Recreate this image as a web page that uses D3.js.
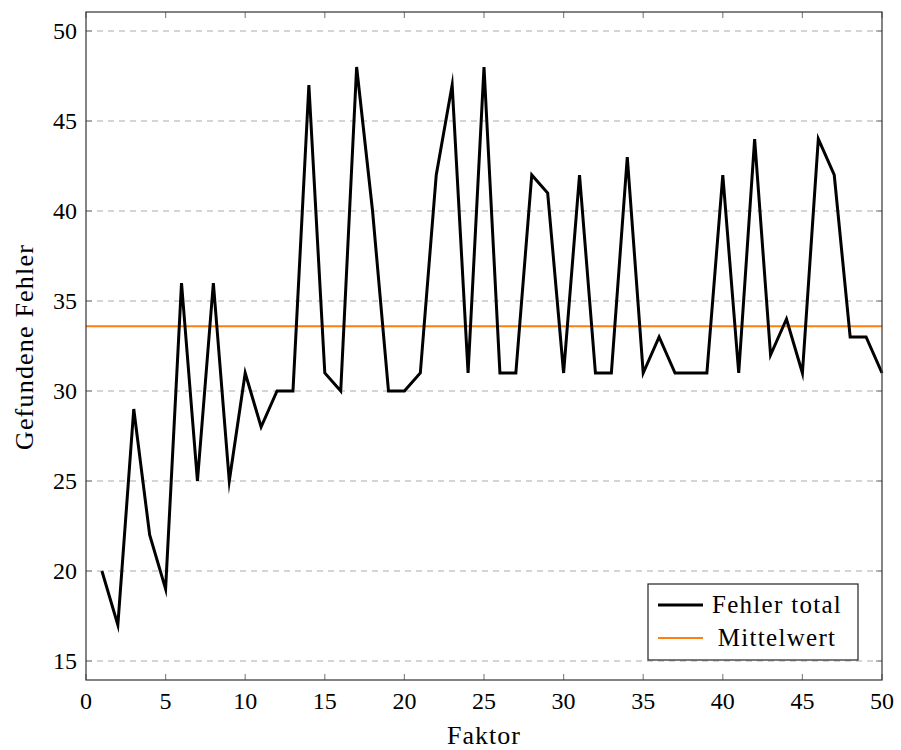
<!DOCTYPE html>
<html><head><meta charset="utf-8">
<script src="https://cdn.jsdelivr.net/npm/d3@7"></script>
<style>body{margin:0;background:#fff;} text{font-family:"Liberation Serif","DejaVu Serif",serif;}</style>
</head><body><svg id="c" width="901" height="750"></svg>
<script>
const factors = d3.range(1, 51);
const errors = [20,17,29,22,19,36,25,36,25,31,28,30,30,47,31,30,48,40,30,30,
                31,42,47,31,48,31,31,42,41,31,42,31,31,43,31,33,31,31,31,42,
                31,44,32,34,31,44,42,33,33,31];
const meanValue = [33.6];
const xTicks = [0,5,10,15,20,25,30,35,40,45,50];
const yTicks = [15,20,25,30,35,40,45,50];
const legendLabels = ["Fehler total","Mittelwert"];

const svg = d3.select("#c");
const L=86, R=882, T=12, B=680;
const x = d3.scaleLinear().domain([0,50]).range([L,R]);
const y = d3.scaleLinear().domain([15,50]).range([661,31]);

// grid
svg.append("g").selectAll("line").data(yTicks).join("line")
  .attr("x1",L).attr("x2",R).attr("y1",d=>y(d)).attr("y2",d=>y(d))
  .attr("stroke","#c8c8c8").attr("stroke-width",1.3).attr("stroke-dasharray","6,5");

// ticks
const tk = svg.append("g").attr("stroke","#888").attr("stroke-width",1.2);
xTicks.forEach(t=>{
  tk.append("line").attr("x1",x(t)).attr("x2",x(t)).attr("y1",B).attr("y2",B-6);
  tk.append("line").attr("x1",x(t)).attr("x2",x(t)).attr("y1",T).attr("y2",T+6);
});
yTicks.forEach(t=>{
  tk.append("line").attr("x1",L).attr("x2",L+6).attr("y1",y(t)).attr("y2",y(t));
  tk.append("line").attr("x1",R).attr("x2",R-6).attr("y1",y(t)).attr("y2",y(t));
});

// mean line
svg.append("line").attr("x1",L).attr("x2",R).attr("y1",y(meanValue[0])).attr("y2",y(meanValue[0]))
  .attr("stroke","#ff7f0e").attr("stroke-width",2);

// data line
svg.append("path").datum(factors.map((f,i)=>[f,errors[i]]))
  .attr("d", d3.line().x(d=>x(d[0])).y(d=>y(d[1])))
  .attr("fill","none").attr("stroke","#000").attr("stroke-width",3).attr("stroke-linejoin","miter").attr("stroke-miterlimit",10);

// frame
svg.append("rect").attr("x",L).attr("y",T).attr("width",R-L).attr("height",B-T)
  .attr("fill","none").attr("stroke","#333").attr("stroke-width",1.2);

// tick labels
svg.append("g").selectAll("text").data(xTicks).join("text")
  .attr("x",d=>x(d)).attr("y",709).attr("text-anchor","middle").attr("font-size",24).text(d=>d);
svg.append("g").selectAll("text").data(yTicks).join("text")
  .attr("x",L-9).attr("y",d=>y(d)+8).attr("text-anchor","end").attr("font-size",24).text(d=>d);

// axis labels
svg.append("text").attr("x",(L+R)/2).attr("y",744).attr("text-anchor","middle").attr("font-size",26).attr("letter-spacing",1).text("Faktor");
svg.append("text").attr("transform",`translate(33,347) rotate(-90)`).attr("text-anchor","middle").attr("font-size",26).attr("letter-spacing",1.2).text("Gefundene Fehler");

// legend
const lg = svg.append("g");
lg.append("rect").attr("x",648).attr("y",584).attr("width",210).attr("height",76)
  .attr("fill","#fff").attr("stroke","#222").attr("stroke-width",1.2);
lg.append("line").attr("x1",658).attr("x2",703).attr("y1",605).attr("y2",605).attr("stroke","#000").attr("stroke-width",3);
lg.append("line").attr("x1",658).attr("x2",703).attr("y1",638).attr("y2",638).attr("stroke","#ff7f0e").attr("stroke-width",2);
lg.append("text").attr("x",777).attr("y",613).attr("text-anchor","middle").attr("font-size",25).attr("letter-spacing",1.3).text(legendLabels[0]);
lg.append("text").attr("x",777).attr("y",646).attr("text-anchor","middle").attr("font-size",25).attr("letter-spacing",1.3).text(legendLabels[1]);
</script></body></html>
